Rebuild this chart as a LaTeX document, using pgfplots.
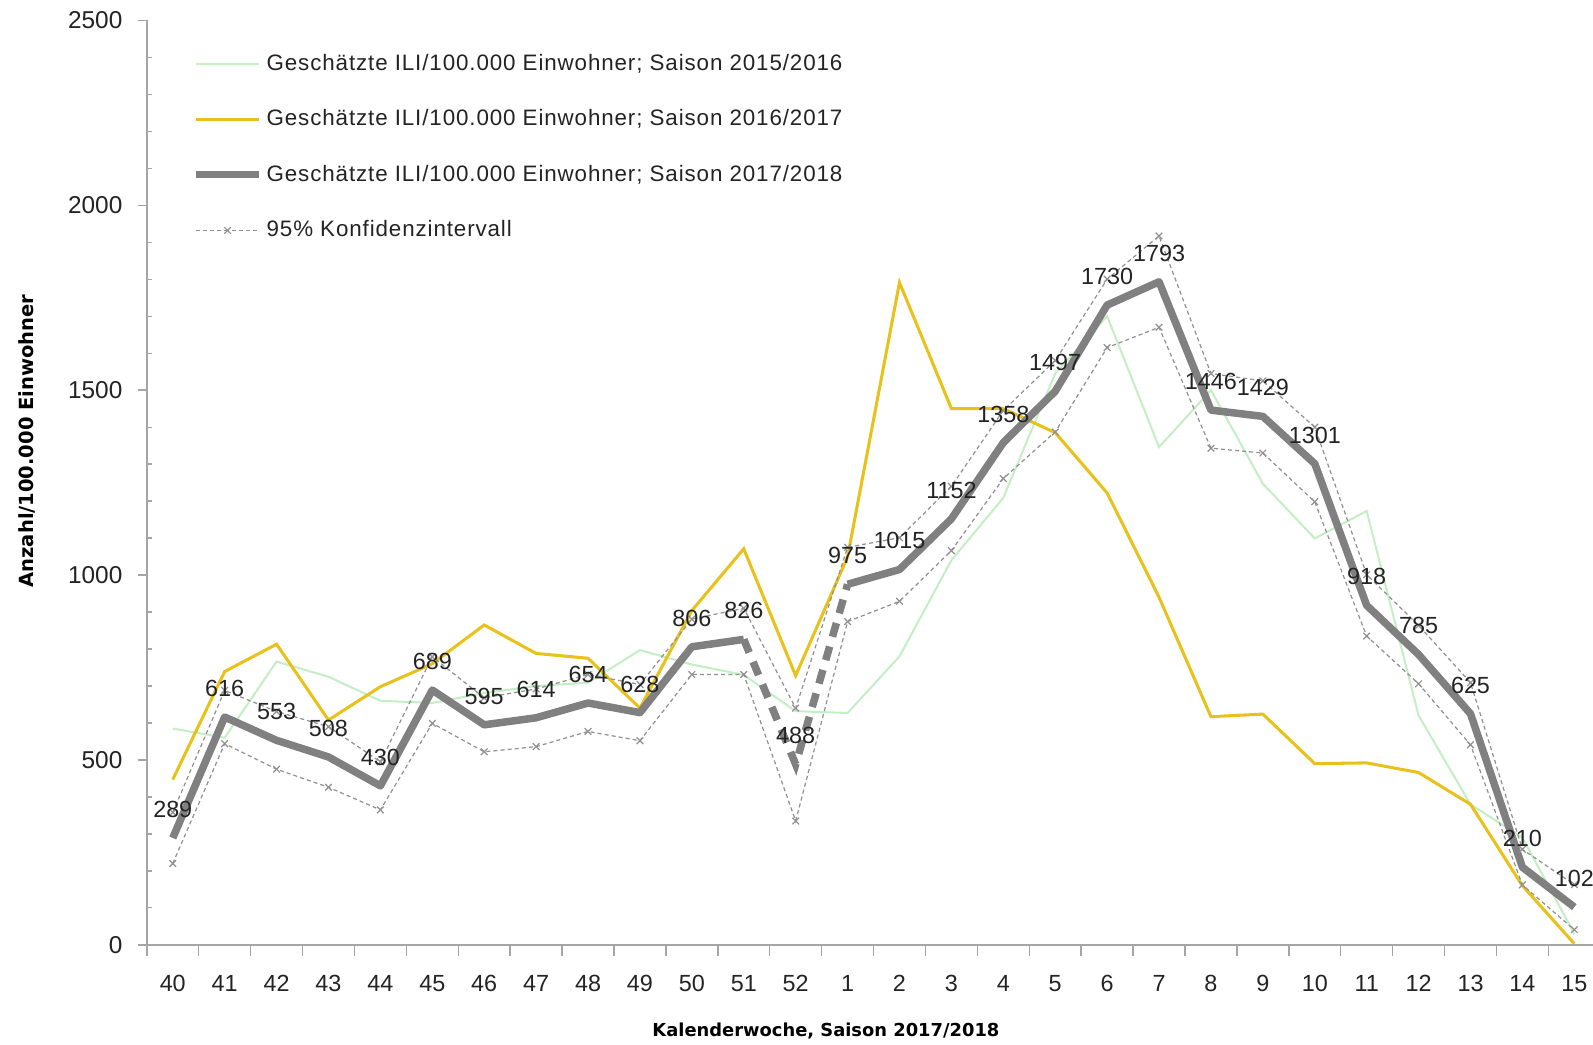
\documentclass[border=0pt]{standalone}
\usepackage{pgfplots}
\usepackage{pgfplotstable}
\pgfplotsset{compat=1.18}
\usepackage{fontspec}
\setmainfont{Liberation Sans}
\newfontfamily\lgfont{Liberation Sans}[LetterSpace=4]
\newfontfamily\axfont{DejaVu Sans}

\definecolor{s1516}{RGB}{196,238,196}
\definecolor{s1617}{RGB}{232,194,26}
\definecolor{s1718}{RGB}{128,128,128}
\definecolor{cigray}{RGB}{145,145,145}
\definecolor{axgray}{RGB}{165,165,165}
\definecolor{txt}{RGB}{35,35,35}

% idx: 0 = KW 40 ... 12 = KW 52, 13 = KW 1 ... 27 = KW 15
\pgfplotstableread{
idx g    y    m    lo   hi
0   585  447  289  220  358
1   560  739  616  544  688
2   766  813  553  475  631
3   725  608  508  426  590
4   660  698  430  365  495
5   654  760  689  599  779
6   681  865  595  522  668
7   700  788  614  536  692
8   709  775  654  577  731
9   797  640  628  552  704
10  758  904  806  731  881
11  730  1071 826  731  910
12  632  728  488  335  640
13  627  1049 975  874  1075
14  780  1791 1015 929  1101
15  1040 1450 1152 1066 1240
16  1209 1450 1358 1261 1445
17  1545 1385 1497 1387 1580
18  1700 1222 1730 1615 1800
19  1346 940  1793 1670 1917
20  1500 617  1446 1343 1545
21  1247 624  1429 1330 1525
22  1099 490  1301 1198 1400
23  1173 492  918  835  1001
24  620  466  785  706  864
25  380  380  625  541  709
26  290  160  210  162  258
27  30   3    102  41   163
}\ili

\begin{document}
\begin{tikzpicture}
\begin{axis}[
  scale only axis, width=711.75pt, height=455pt,
  xmin=-0.5, xmax=27.36, ymin=0, ymax=2500,
  axis x line=bottom, axis y line=left,
  x axis line style={-, draw=axgray, line width=1.3pt},
  y axis line style={-, draw=axgray, line width=0.7pt},
  tick align=outside,
  major tick length=4.5pt, minor tick length=5.5pt,
  xtick={0,...,27},
  xticklabels={40,41,42,43,44,45,46,47,48,49,50,51,52,1,2,3,4,5,6,7,8,9,10,11,12,13,14,15},
  major x tick style={draw=none},
  minor xtick={-0.5,0.5,...,27.5},
  minor x tick style={draw=axgray, line width=0.7pt},
  ytick={0,500,...,2500},
  major y tick style={draw=axgray, line width=0.7pt},
  extra y ticks={100,200,300,400,600,700,800,900,1100,1200,1300,1400,1600,1700,1800,1900,2100,2200,2300,2400},
  extra y tick labels={},
  extra y tick style={tick align=inside, major tick length=2.5pt, major y tick style={draw=axgray, line width=0.6pt}},
  scaled y ticks=false,
  /pgf/number format/1000 sep={},
  /pgf/number format/assume math mode=true,
  yticklabel style={font=\fontsize{12pt}{14pt}\selectfont, text=txt, xshift=-4pt},
  xticklabel style={font=\fontsize{11.5pt}{13pt}\selectfont, text=txt, yshift=-7pt},
  xlabel={Kalenderwoche, Saison 2017/2018},
  ylabel={Anzahl/100.000 Einwohner},
  xlabel style={at={(axis description cs:0.4696,-0.0934)}, anchor=center, font={\axfont\bfseries\fontsize{8.8pt}{10pt}\selectfont}},
  ylabel style={at={(axis description cs:-0.0825,0.545)}, anchor=center, font={\axfont\bfseries\fontsize{9.6pt}{11pt}\selectfont}},
  legend style={at={(axis description cs:0.0313,0.9685)}, anchor=north west, draw=none, fill=none, inner sep=0pt, row sep=13.9pt, font={\lgfont\fontsize{11pt}{13pt}\selectfont}, text=txt, nodes={inner sep=2pt}},
  legend cell align=left,
  legend image code/.code={\draw[mark repeat=2,mark phase=2,#1] plot coordinates {(0pt,0pt) (15.5pt,0pt) (31pt,0pt)};},
]
\addlegendimage{s1516, line width=1pt}
\addlegendentry{Geschätzte ILI/100.000 Einwohner; Saison 2015/2016}
\addlegendimage{s1617, line width=1.5pt}
\addlegendentry{Geschätzte ILI/100.000 Einwohner; Saison 2016/2017}
\addlegendimage{s1718, line width=3.5pt}
\addlegendentry{Geschätzte ILI/100.000 Einwohner; Saison 2017/2018}
\addlegendimage{cigray, line width=0.6pt, dash pattern=on 2pt off 1.5pt, mark=x, mark size=2.3pt, mark options={solid}}
\addlegendentry{95\% Konfidenzintervall}

\addplot[forget plot, s1516, line width=1pt] table[x=idx, y=g] {\ili};
\addplot[forget plot, s1617, line width=1.5pt] table[x=idx, y=y] {\ili};
\addplot[forget plot, cigray, line width=0.6pt, dash pattern=on 2pt off 1.5pt, mark=x, mark size=2.3pt, mark options={solid}] table[x=idx, y=hi] {\ili};
\addplot[forget plot, cigray, line width=0.6pt, dash pattern=on 2pt off 1.5pt, mark=x, mark size=2.3pt, mark options={solid}] table[x=idx, y=lo] {\ili};
\addplot[forget plot, s1718, line width=3.7pt, line join=round, restrict x to domain=0:11] table[x=idx, y=m] {\ili};
\addplot[forget plot, s1718, line width=3.7pt, dash pattern=on 7pt off 5pt, restrict x to domain=11:13] table[x=idx, y=m] {\ili};
\addplot[forget plot, s1718, line width=3.7pt, line join=round, restrict x to domain=13:27] table[x=idx, y=m] {\ili};
\addplot[forget plot, draw=none, nodes near coords,
  every node near coord/.append style={font=\fontsize{11.5pt}{13pt}\selectfont, text=txt, yshift=6.5pt}]
  table[x=idx, y=m] {\ili};

\coordinate (bbBL) at (axis cs:-3.328,-269);
\coordinate (bbTR) at (axis cs:27.36,2555);
\end{axis}
\pgfresetboundingbox
\useasboundingbox (bbBL) rectangle (bbTR);
\end{tikzpicture}
\end{document}
